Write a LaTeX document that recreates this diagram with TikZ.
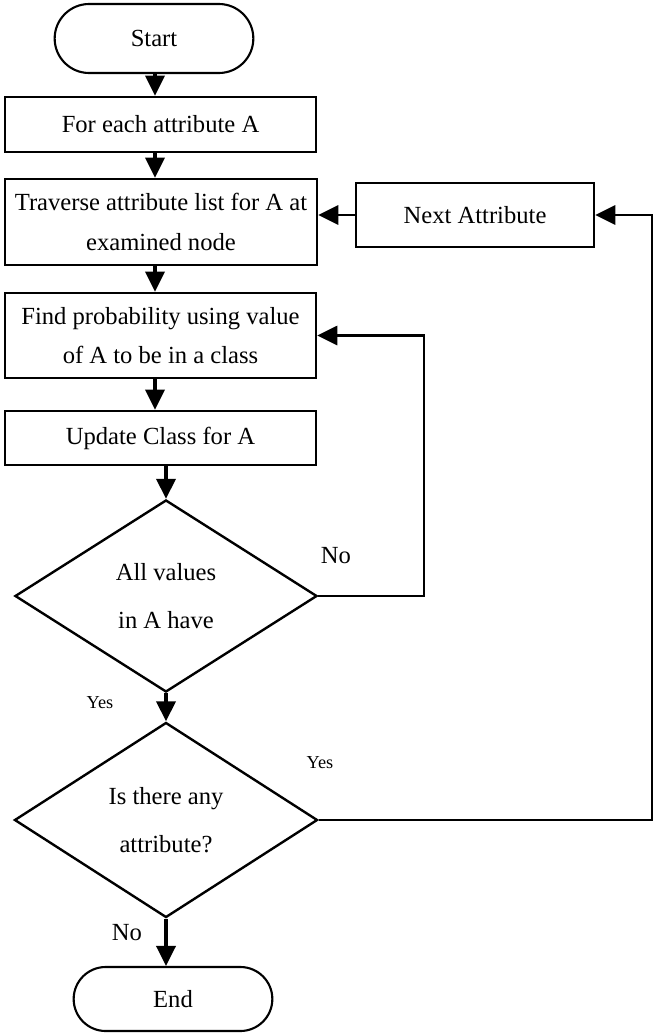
\documentclass[tikz,border=0pt]{standalone}
\usepackage{fontspec}
\setmainfont{Liberation Serif}
\usetikzlibrary{arrows.meta, positioning, shapes.geometric, shapes.misc}

\begin{document}
\begin{tikzpicture}[x=0.025cm, y=-0.025cm,
    box/.style={draw, line width=1.9pt, rectangle, align=center, inner sep=2pt,
        font={\fontsize{17.5}{28}\selectfont}},
    term/.style={draw, line width=1.5pt, rounded rectangle, font={\fontsize{17.5}{20}\selectfont}},
    decide/.style={draw, line width=1.7pt, diamond, aspect=1.57, inner sep=0pt, align=center,
        font={\fontsize{17.5}{34}\selectfont}},
    arr/.style={line width=2.2pt, -{Triangle[length=0.5cm, width=0.48cm]}},
    link/.style={line width=1.8pt, -{Triangle[length=0.5cm, width=0.48cm]}},
    lbl/.style={font={\fontsize{17.5}{20}\selectfont}},
    small/.style={font={\fontsize{13}{15}\selectfont}}]
    \useasboundingbox (0,0) rectangle (654,1033);

    % Start
    \node[term, minimum width=5.2cm, minimum height=1.725cm] (start) at (154,38.5) {Start};

    % main column of boxes
    \node[box, minimum width=7.775cm, minimum height=1.375cm] (each) at (160.5,124.5) {For each attribute A};
    \node[box, minimum width=7.8cm, minimum height=2.15cm] (trav) at (161,222) {Traverse attribute list for A at\\examined node};
    \node[box, minimum width=5.95cm, minimum height=1.6cm] (next) at (475,215) {Next Attribute};
    \node[box, minimum width=7.775cm, minimum height=2.125cm] (find) at (160.5,335.5) {Find probability using value\\of A to be in a class};
    \node[box, minimum width=7.775cm, minimum height=1.35cm] (upd) at (160.5,438) {Update Class for A};

    % decisions
    \node[decide, minimum width=7.55cm, minimum height=4.8cm] (dia1) at (166,596) {All values\\in A have};
    \node[decide, minimum width=7.575cm, minimum height=4.875cm] (dia2) at (166,820) {Is there any\\attribute?};

    % End
    \node[term, minimum width=5.2cm, minimum height=1.6cm] (end) at (173,999) {End};

    % labels
    \node[lbl] (no1) at (336,556) {No};
    \node[small] (yes1) at (100,703) {Yes};
    \node[small] (yes2) at (320,763) {Yes};
    \node[lbl] (no2) at (127,933) {No};

    % helper coordinates
    \coordinate (spine) at (155,0);
    \coordinate (loopA) at (424,0);
    \coordinate (loopB) at (652,0);

    % arrows down the column
    \draw[arr] (spine |- start.south) -- (spine |- each.north);
    \draw[arr] (spine |- each.south) -- (spine |- trav.north);
    \draw[arr] (spine |- trav.south) -- (spine |- find.north);
    \draw[arr] (spine |- find.south) -- (spine |- upd.north);
    \draw[arr] (dia1.north |- upd.south) -- (dia1.north);
    \draw[arr] (dia1.south) -- (dia2.north);
    \draw[arr] (dia2.south) -- (dia2.south |- end.north);

    % loops back
    \draw[link] (next.west) -- (next.west -| trav.east);
    \draw[link] (dia1.east) -- (dia1.east -| loopA) |- (find.east);
    \draw[link] (dia2.east) -- (dia2.east -| loopB) |- (next.east);
\end{tikzpicture}
\end{document}
